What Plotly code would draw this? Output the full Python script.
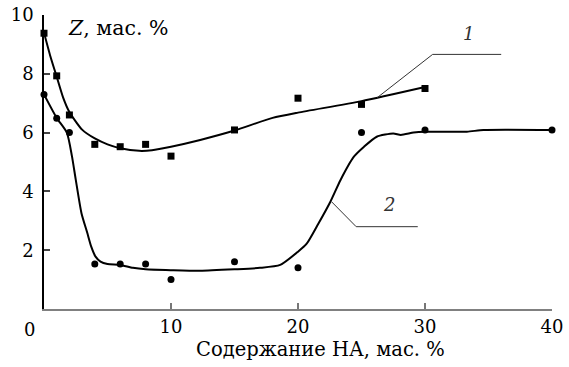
import plotly.graph_objects as go

# measured points
sq_x = [0, 1, 2, 4, 6, 8, 10, 15, 20, 25, 30]
sq_y = [9.38, 7.93, 6.6, 5.6, 5.52, 5.6, 5.2, 6.09, 7.17, 6.96, 7.5]

ci_x = [0, 1, 2, 4, 6, 8, 10, 15, 20, 25, 30, 40]
ci_y = [7.3, 6.49, 6.0, 1.53, 1.53, 1.53, 1.0, 1.61, 1.4, 6.0, 6.09, 6.09]

# fitted curves
c1_x = [0, 0.5, 1, 1.5, 2, 3, 4, 5, 6, 7.5, 8.5, 10, 12.3, 15, 18, 20, 25, 30]
c1_y = [9.4, 8.6, 7.9, 7.2, 6.7, 6.1, 5.8, 5.6, 5.47, 5.38, 5.4, 5.52, 5.75, 6.07, 6.5, 6.68, 7.07, 7.55]

c2_x = [0, 1, 1.8, 2.2, 2.5, 2.95, 3.4, 3.72, 4.06, 4.45, 5, 6, 7, 8, 10, 12.3, 15, 17, 18.6,
        20, 20.7, 21.6, 22.55, 23.35, 24.4, 25.2, 26.2, 27.5, 28.1, 29.1, 30, 33.3, 34.6, 40]
c2_y = [7.3, 6.5, 6.0, 5.2, 4.4, 3.26, 2.6, 2.12, 1.78, 1.61, 1.53, 1.5, 1.4, 1.35, 1.32, 1.3, 1.35, 1.4, 1.5,
        1.95, 2.23, 2.9, 3.65, 4.39, 5.18, 5.52, 5.86, 5.97, 5.92, 6.0, 6.03, 6.03, 6.09, 6.09]

x_ticks = [10, 20, 30, 40]
y_ticks = [2, 4, 6, 8, 10]

FONT = "DejaVu Serif"

fig = go.Figure()
fig.add_trace(go.Scatter(x=c1_x, y=c1_y, mode="lines", line=dict(color="black", width=2, shape="spline", smoothing=0.6),
                         cliponaxis=False, showlegend=False, hoverinfo="skip"))
fig.add_trace(go.Scatter(x=c2_x, y=c2_y, mode="lines", line=dict(color="black", width=2, shape="spline", smoothing=0.6),
                         cliponaxis=False, showlegend=False, hoverinfo="skip"))
fig.add_trace(go.Scatter(x=sq_x, y=sq_y, mode="markers", marker=dict(symbol="square", size=7, color="black"),
                         cliponaxis=False, showlegend=False))
fig.add_trace(go.Scatter(x=ci_x, y=ci_y, mode="markers", marker=dict(symbol="circle", size=7, color="black"),
                         cliponaxis=False, showlegend=False))

# leader lines
line_style = dict(color="#333", width=1)
fig.add_shape(type="path", path="M 26.24 7.19 L 30.6 8.66 L 36.0 8.66", xref="x", yref="y", line=line_style)
fig.add_shape(type="path", path="M 22.64 3.65 L 24.58 2.80 L 29.43 2.80", xref="x", yref="y", line=line_style)

fig.add_annotation(x=33.4, y=9.38, text="<i>1</i>", showarrow=False, font=dict(family=FONT, size=18, color="#333"))
fig.add_annotation(x=27.15, y=3.57, text="<i>2</i>", showarrow=False, font=dict(family=FONT, size=18, color="#333"))
fig.add_annotation(x=1.75, y=9.57, xanchor="left", text="<i>Z</i>, мас. %", showarrow=False,
                   font=dict(family=FONT, size=20.5, color="black"))
fig.add_annotation(xref="paper", yref="paper", x=-0.028, y=0, xanchor="center", yanchor="top", yshift=-8,
                   text="0", showarrow=False, font=dict(family=FONT, size=18, color="black"))
fig.add_annotation(xref="paper", yref="paper", x=0.545, y=0, xanchor="center", yanchor="top", yshift=-27,
                   text="Содержание НА, мас. %", showarrow=False, font=dict(family=FONT, size=19.5, color="black"))

fig.update_layout(
    width=569, height=367,
    margin=dict(l=43.5, r=17.3, t=15, b=58, autoexpand=False),
    paper_bgcolor="white", plot_bgcolor="white",
    font=dict(family=FONT, size=18, color="black"),
    xaxis=dict(range=[0, 40], tickvals=x_ticks, ticks="inside", ticklen=6, tickcolor="#777", tickwidth=1.5,
               showline=True, linecolor="#808080", linewidth=2, showgrid=False, zeroline=False, automargin=False,
               tickfont=dict(family=FONT, size=18)),
    yaxis=dict(range=[0, 10], tickvals=y_ticks, ticks="inside", ticklen=6, tickcolor="#444", tickwidth=1.5,
               showline=True, linecolor="black", linewidth=1.5, showgrid=False, zeroline=False, automargin=False,
               tickfont=dict(family=FONT, size=18), ticklabelstandoff=5),
)
fig.write_html("out.html", config={"displayModeBar": False}, post_script="document.body.style.margin='0';")
